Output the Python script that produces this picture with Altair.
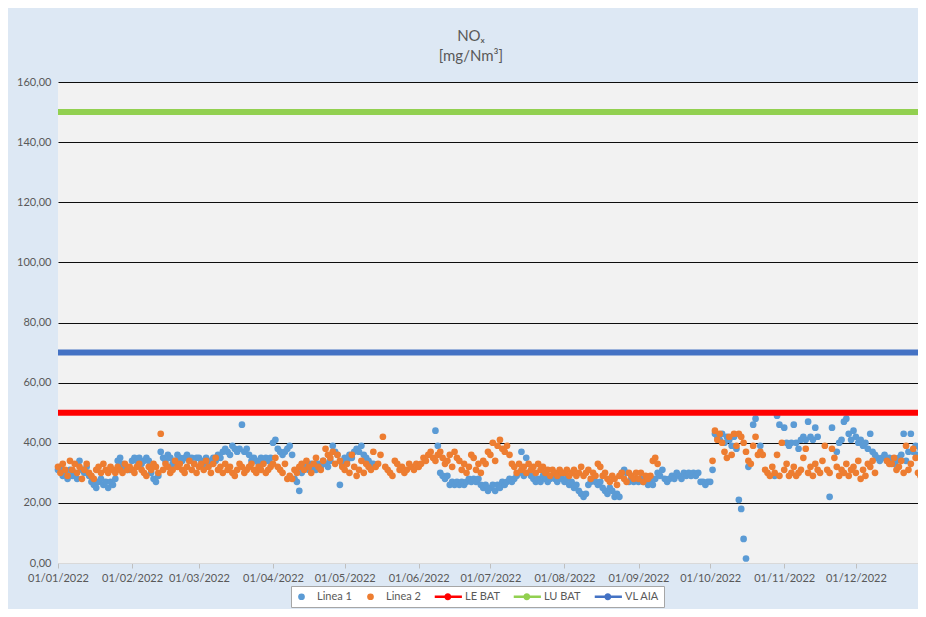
import altair as alt
import pandas as pd

# ---------------- data (daily values, 2022) ----------------
start_date = "2022-01-01"
n_days = 365

linea1_jan = [31,32,29,30,28,31,29,30,28,34,31,30,32,29,27,26,25,27,28,26,27,25,27,26,28,34,35,33,32,31,31]
linea1_feb = [34,35,34,35,33,34,35,34,30,28,27,29,37,35,34,36,35,33,34,36,35,34,35,36,34,35,33,35]
linea1_mar = [35,34,33,35,34,33,35,34,36,35,37,38,37,36,39,38,37,38,46,37,38,36,34,35,34,33,35,34,35,34,35]
linea1_apr = [40,41,38,37,36,37,38,39,36,28,27,24,30,31,32,31,33,32,31,33,32,34,33,32,34,39,37,36,26,33]
linea1_may = [35,34,36,35,37,38,37,39,36,35,34,33,33] + [None] * 18
linea1_jun = [None] * 7 + [44,39,30,29,28,29,26,27,26,27,26,27,26,27,28,27,28,27,28,26,25,26,24]
linea1_jul = [25,26,24,26,25,27,26,27,28,27,28,29,30,37,29,35,30,29,28,27,28,27,29,28,27,28,29,28,27,29,28]
linea1_aug = [27,28,26,27,25,26,24,23,22,23,26,27,28,27,26,27,25,24,23,25,24,22,23,22,30,31,30,27,28,27,28]
linea1_sep = [27,28,27,28,26,27,26,28,30,29,31,28,27,28,29,28,30,29,28,30,29,30,29,30,29,30,27,27,26,27]
linea1_oct = [27,31,43,42,41,43,40,42,41,39,42,38,21,18,8,1.5,32,None,46,48,None,39,None,None,None,None,None,29,49,46,None]
linea1_nov = [45,40,39,40,46,40,38,41,42,41,47,42,41,45,42,None,None,None,None,22,45,None,37,40,41,47,48,43,41,44]
linea1_dec = [42,40,41,39,40,38,43,37,36,35,34,35,36,34,35,34,33,34,35,36,43,34,37,43,37,39,36,38,42,37,36]

linea2_jan = [32,30,33,31,29,34,31,33,30,32,28,31,33,30,29,28,31,32,30,33,31,30,32,31,30,32,31,30,33,31,32]
linea2_feb = [31,30,32,33,31,30,29,32,31,33,32,30,43,31,33,32,30,31,34,32,33,31,30,32,34,31,33,30]
linea2_mar = [32,33,31,34,32,30,33,35,31,32,30,33,31,32,30,29,31,33,32,30,31,32,33,31,30,32,31,33,30,31,32]
linea2_apr = [33,35,32,31,30,33,28,29,28,31,30,32,33,31,34,32,30,33,35,32,31,34,38,36,35,37,33,36,34,32]
linea2_may = [31,33,30,36,32,29,31,34,30,33,32,31,37,32,33,36,42,32,31,30,29,34,33,31,32,30,31,33,32,31,33]
linea2_jun = [32,33,35,34,36,37,35,34,36,37,35,33,34,36,32,37,35,34,31,33,30,32,36,35,31,33,30,34,33,37]
linea2_jul = [36,40,34,39,41,38,37,39,36,33,32,30,33,31,32,30,33,31,32,30,33,31,32,30,31,29,31,30,29,31,30]
linea2_aug = [30,31,29,30,31,29,30,32,29,30,31,28,30,29,33,32,29,30,28,27,29,28,26,29,30,28,27,30,29,28,30]
linea2_sep = [28,30,27,29,28,29,34,35,33] + [None] * 21
linea2_oct = [None,34,44,41,43,40,37,35,42,36,43,39,43,42,40,37,34,33,39,42,36,37,36,31,30,29,32,30,36,29,40]
linea2_nov = [31,33,29,30,32,29,30,31,35,38,30,32,29,33,31,30,34,39,31,30,38,35,32,29,31,30,33,29,31,32]
linea2_dec = [30,34,28,31,29,33,32,34,30,None,None,None,None,34,33,33,35,31,32,34,30,39,31,33,38,35,30,29,32,30,29]

linea1 = (linea1_jan + linea1_feb + linea1_mar + linea1_apr + linea1_may + linea1_jun +
          linea1_jul + linea1_aug + linea1_sep + linea1_oct + linea1_nov + linea1_dec)
linea2 = (linea2_jan + linea2_feb + linea2_mar + linea2_apr + linea2_may + linea2_jun +
          linea2_jul + linea2_aug + linea2_sep + linea2_oct + linea2_nov + linea2_dec)
assert len(linea1) == n_days and len(linea2) == n_days

limit_names = ["LE BAT", "LU BAT", "VL AIA"]
limit_values = [50, 150, 70]
limit_colors = ["#ff0000", "#92d050", "#4472c4"]

series_names = ["Linea 1", "Linea 2", "LE BAT", "LU BAT", "VL AIA"]
series_colors = ["#5b9bd5", "#ed7d31", "#ff0000", "#92d050", "#4472c4"]

y_ticks = [0, 20, 40, 60, 80, 100, 120, 140, 160]
x_tick_months = list(range(1, 13))

# ---------------- tables ----------------
dates = pd.date_range(start_date, periods=n_days, freq="D").strftime("%Y-%m-%d")
rows = []
for name, vals in (("Linea 1", linea1), ("Linea 2", linea2)):
    for d, v in zip(dates, vals):
        if v is not None:
            rows.append({"date": d, "value": v, "series": name})
points_df = pd.DataFrame(rows)
lines_df = pd.DataFrame({"name": limit_names, "value": limit_values, "color": limit_colors})

# legend symbols: circle for points, line-with-dot for limit lines
line_dot = ("M-4.4,-0.36H3.7V0.36H-4.4Z "
            "M-1.55,0A1.05,1.05 0 1,1 0.55,0A1.05,1.05 0 1,1 -1.55,0Z")
series_shapes = ["circle", "circle", line_dot, line_dot, line_dot]

FONT = "Lato"
GREY = "#595959"

legend = alt.Legend(
    title=None, orient="none", legendX=233, legendY=504,
    direction="horizontal", columns=5, symbolSize=45, symbolStrokeWidth=0,
    labelFontSize=11, labelColor=GREY, labelFont=FONT, labelOffset=10,
    columnPadding=13, padding=5, strokeColor="#a6a6a6", fillColor="#ffffff",
)

x_enc = alt.X(
    "date:T",
    scale=alt.Scale(type="utc",
                    domain=[alt.DateTime(year=2022, month=1, date=1, utc=True),
                            alt.DateTime(year=2022, month=12, date=27, utc=True)]),
    axis=alt.Axis(
        values=[alt.DateTime(year=2022, month=m, date=1, utc=True) for m in x_tick_months],
        format="%d/%m/%Y", grid=False, ticks=True, tickColor="#bfbfbf", tickSize=5,
        domain=True, domainColor="#d9d9d9", labelFontSize=11, labelColor=GREY,
        labelFont=FONT, labelPadding=4, title=None, labelOverlap=False, labelFlush=False,
    ),
)
y_enc = alt.Y(
    "value:Q",
    scale=alt.Scale(domain=[0, 160], nice=False),
    axis=alt.Axis(
        values=y_ticks, labelExpr="replace(format(datum.value, '.2f'), '.', ',')",
        grid=True, gridWidth=1,
        gridColor={"condition": {"test": "datum.value === 0", "value": "#d9d9d9"}, "value": "#0d0d0d"},
        ticks=False, domain=False, labelPadding=7, labelFontSize=11, labelColor=GREY,
        labelFont=FONT, title=None,
    ),
)

points = alt.Chart(points_df).mark_point(filled=True, opacity=1, size=45, strokeWidth=0).encode(
    x=x_enc,
    y=y_enc,
    color=alt.Color("series:N", scale=alt.Scale(domain=series_names, range=series_colors), legend=legend),
    shape=alt.Shape("series:N", scale=alt.Scale(domain=series_names, range=series_shapes), legend=legend),
)

rules = alt.Chart(lines_df).mark_rule(strokeWidth=6).encode(
    y=alt.Y("value:Q"),
    stroke=alt.Stroke("color:N", scale=None),
)

chart = alt.layer(points, rules).properties(
    width=860,
    height=481,
    autosize=alt.AutoSizeParams(type="none"),
    padding={"left": 50, "top": 74, "right": 0, "bottom": 46},
    background="#dde8f4",
    title=alt.TitleParams(
        text=["NOₓ", "[mg/Nm³]"], anchor="middle", frame="group", dx=-17,
        fontSize=15, font=FONT, fontWeight="normal", color=GREY, offset=12, lineHeight=20,
    ),
).configure_view(fill="#f2f2f2", strokeWidth=0)

chart.save("out.html", embed_options={"renderer": "svg", "actions": False})
